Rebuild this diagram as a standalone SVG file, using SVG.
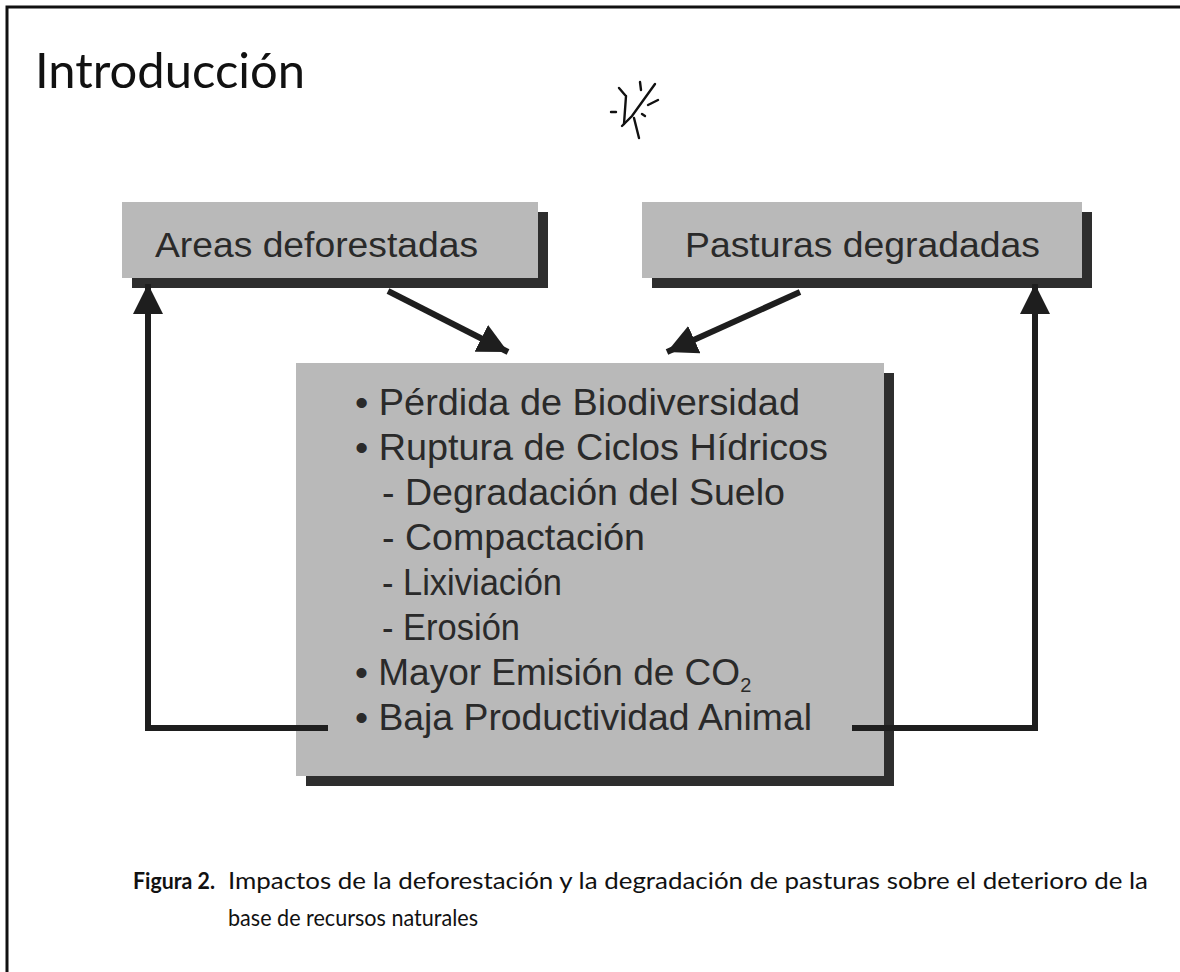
<svg xmlns="http://www.w3.org/2000/svg" width="1180" height="972" viewBox="0 0 1180 972">
<defs>
<style>
.box{fill:#b9b9b9}
.shadow{fill:#2e2e2e}
.lbl{font-family:"Liberation Sans",Arial,sans-serif;font-size:35px;fill:#2a2a2a}
.item{font-family:"Liberation Sans",Arial,sans-serif;font-size:37px;fill:#2a2a2a}
.cap{font-family:"Lato","Open Sans",sans-serif;font-size:23px;fill:#111}
.conn{fill:none;stroke:#1e1e1e;stroke-width:6}
.mark{fill:none;stroke:#111;stroke-width:2.4;stroke-linecap:round}
</style>
<marker id="ah" viewBox="0 0 10 10" refX="10" refY="5" markerWidth="5" markerHeight="5" orient="auto" markerUnits="strokeWidth">
<path d="M0,0 L10,5 L0,10 Z" fill="#1e1e1e"/>
</marker>
</defs>
<rect width="1180" height="972" fill="#fff"/>
<path d="M7,972 L7,7 L1180,7" fill="none" stroke="#111" stroke-width="3"/>
<text x="35" y="88" font-family="Lato,'Open Sans',sans-serif" font-size="48" fill="#111" textLength="270" lengthAdjust="spacingAndGlyphs">Introducción</text>
<g id="scribble" class="mark">
<path d="M655,84 L632,116 L622,126"/>
<path d="M626,96 L624,124"/>
<path d="M634,118 L639,138"/>
<path d="M619,88 L625,95"/>
<path d="M640,82 L641,90"/>
<path d="M611,112 L616,112"/>
<path d="M648,105 L658,100"/>
<path d="M642,114 L645,116"/>
</g>
<g id="node-areas">
<rect class="shadow" x="132" y="212" width="416" height="76"/>
<rect class="box" x="122" y="202" width="416" height="76"/>
<text class="lbl" x="155" y="257" textLength="323" lengthAdjust="spacingAndGlyphs">Areas deforestadas</text>
</g>
<g id="node-pasturas">
<rect class="shadow" x="652" y="212" width="440" height="76"/>
<rect class="box" x="642" y="202" width="440" height="76"/>
<text class="lbl" x="685" y="257" textLength="355" lengthAdjust="spacingAndGlyphs">Pasturas degradadas</text>
</g>
<g id="node-impactos">
<rect class="shadow" x="306" y="373" width="588" height="413"/>
<rect class="box" x="296" y="363" width="588" height="413"/>
<text class="item" x="355" y="415" textLength="445" lengthAdjust="spacingAndGlyphs">• Pérdida de Biodiversidad</text>
<text class="item" x="355" y="460" textLength="473" lengthAdjust="spacingAndGlyphs">• Ruptura de Ciclos Hídricos</text>
<text class="item" x="382" y="505" textLength="403" lengthAdjust="spacingAndGlyphs">- Degradación del Suelo</text>
<text class="item" x="382" y="550" textLength="263" lengthAdjust="spacingAndGlyphs">- Compactación</text>
<text class="item" x="382" y="595" textLength="180" lengthAdjust="spacingAndGlyphs">- Lixiviación</text>
<text class="item" x="382" y="640" textLength="138" lengthAdjust="spacingAndGlyphs">- Erosión</text>
<text class="item" x="355" y="685">• Mayor Emisión de CO<tspan font-size="20" dy="7">2</tspan></text>
<text class="item" x="355" y="730" textLength="457" lengthAdjust="spacingAndGlyphs">• Baja Productividad Animal</text>
</g>
<g id="connectors">
<path class="conn" d="M388,291 L508,352" marker-end="url(#ah)"/>
<path class="conn" d="M800,292 L667,352" marker-end="url(#ah)"/>
<path class="conn" d="M328,728 L148,728 L148,284" marker-end="url(#ah)"/>
<path class="conn" d="M852,728 L1035,728 L1035,284" marker-end="url(#ah)"/>
</g>
<g id="caption">
<text class="cap" x="133" y="889" font-weight="bold" textLength="82" lengthAdjust="spacingAndGlyphs">Figura 2.</text>
<text class="cap" x="228" y="889" textLength="920" lengthAdjust="spacingAndGlyphs">Impactos de la deforestación y la degradación de pasturas sobre el deterioro de la</text>
<text class="cap" x="228" y="926" textLength="250" lengthAdjust="spacingAndGlyphs">base de recursos naturales</text>
</g>
</svg>
